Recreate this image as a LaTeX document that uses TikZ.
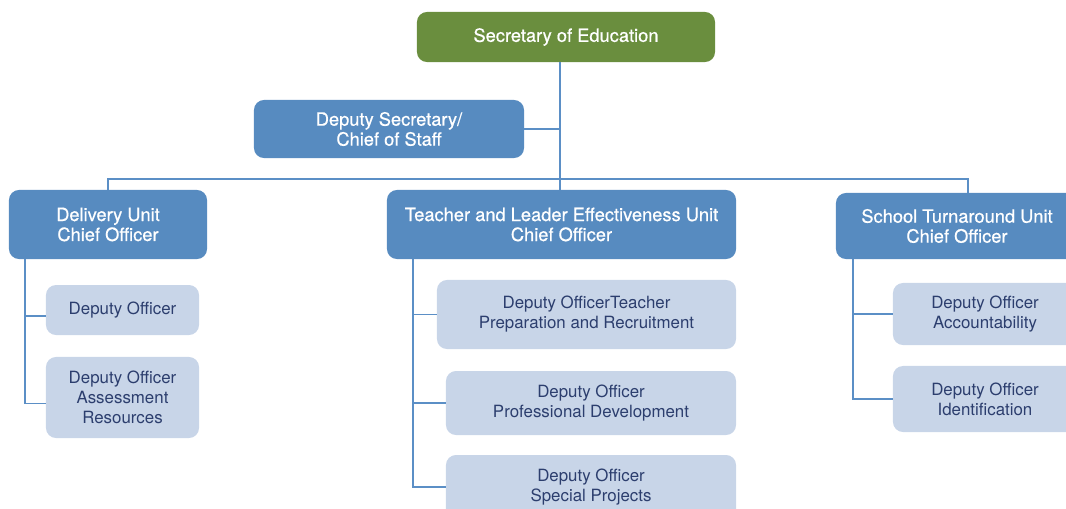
\documentclass[tikz,border=0pt]{standalone}
\usepackage{fontspec}
\setmainfont{TeX Gyre Heros}
\newfontfamily\headfont{TeX Gyre Heros}[FakeBold=0.6]
\definecolor{headgreen}{RGB}{106,142,62}
\definecolor{headblue}{RGB}{87,139,192}
\definecolor{subblue}{RGB}{200,213,232}
\definecolor{subtext}{RGB}{44,62,110}
\definecolor{linkblue}{RGB}{91,143,198}
\begin{document}
\begin{tikzpicture}[
			x=0.025cm, y=-0.025cm,
			head/.style={rectangle, rounded corners=0.25cm, fill=headblue, text=white, align=center, font=\headfont\fontsize{13}{14.2}\selectfont, inner sep=0pt},
			top/.style={head, fill=headgreen},
			sub/.style={rectangle, rounded corners=0.25cm, fill=subblue, text=subtext, align=center, font=\fontsize{12}{14.2}\selectfont, inner sep=0pt},
			link/.style={draw=linkblue, line width=1.1pt}
		]
		\useasboundingbox (0,0) rectangle (1066,508);
		\clip (0,0) rectangle (1066,508);

		\node[top, minimum width=7.45cm, minimum height=1.25cm] (sec) at (566,37) {Secretary of Education};
		\node[head, minimum width=6.75cm, minimum height=1.45cm] (dsec) at (389,129) {Deputy Secretary/\\Chief of Staff};
		\node[head, minimum width=4.95cm, minimum height=1.725cm] (del) at (108,224.5) {Delivery Unit\\Chief Officer};
		\node[head, minimum width=8.725cm, minimum height=1.725cm] (tlu) at (561.5,224.5) {Teacher and Leader Effectiveness Unit\\Chief Officer};
		\node[head, minimum width=6.05cm, minimum height=1.65cm] (stu) at (957,226) {School Turnaround Unit\\Chief Officer};

		\node[sub, minimum width=3.825cm, minimum height=1.25cm] (delA) at (122.5,310) {Deputy Officer};
		\node[sub, minimum width=3.825cm, minimum height=2.025cm] (delB) at (122.5,397.5) {Deputy Officer\\Assessment\\Resources};
		\node[sub, minimum width=7.475cm, minimum height=1.725cm] (tluA) at (586.5,314.5) {Deputy OfficerTeacher\\Preparation and Recruitment};
		\node[sub, minimum width=7.25cm, minimum height=1.6cm] (tluB) at (591,403) {Deputy Officer\\Professional Development};
		\node[sub, minimum width=7.25cm, minimum height=1.6cm] (tluC) at (591,487) {Deputy Officer\\Special Projects};
		\node[sub, minimum width=4.6cm, minimum height=1.55cm] (stuA) at (985,314) {Deputy Officer\\Accountability};
		\node[sub, minimum width=4.6cm, minimum height=1.65cm] (stuB) at (985,399) {Deputy Officer\\Identification};

		\coordinate (bus) at (560,179);
		\coordinate (busR) at (968,179);
		\coordinate (delV) at (25,259);
		\coordinate (tluV) at (413,259);
		\coordinate (stuV) at (853,259);

		\draw[link] (sec.south -| bus) -- (bus |- tlu.north);
		\draw[link] (dsec.east) -- (dsec.east -| bus);
		\draw[link] (del.north) |- (busR) -- (busR |- stu.north);

		\draw[link] (delV) |- ([yshift=-0.15cm]delA.west);
		\draw[link] (delV) |- ([yshift=-0.15cm]delB.west);
		\draw[link] (tluV) |- (tluA.west);
		\draw[link] (tluV) |- (tluB.west);
		\draw[link] (tluV) |- (tluC.west);
		\draw[link] (stuV) |- (stuA.west);
		\draw[link] (stuV) |- (stuB.west);
	\end{tikzpicture}
\end{document}
